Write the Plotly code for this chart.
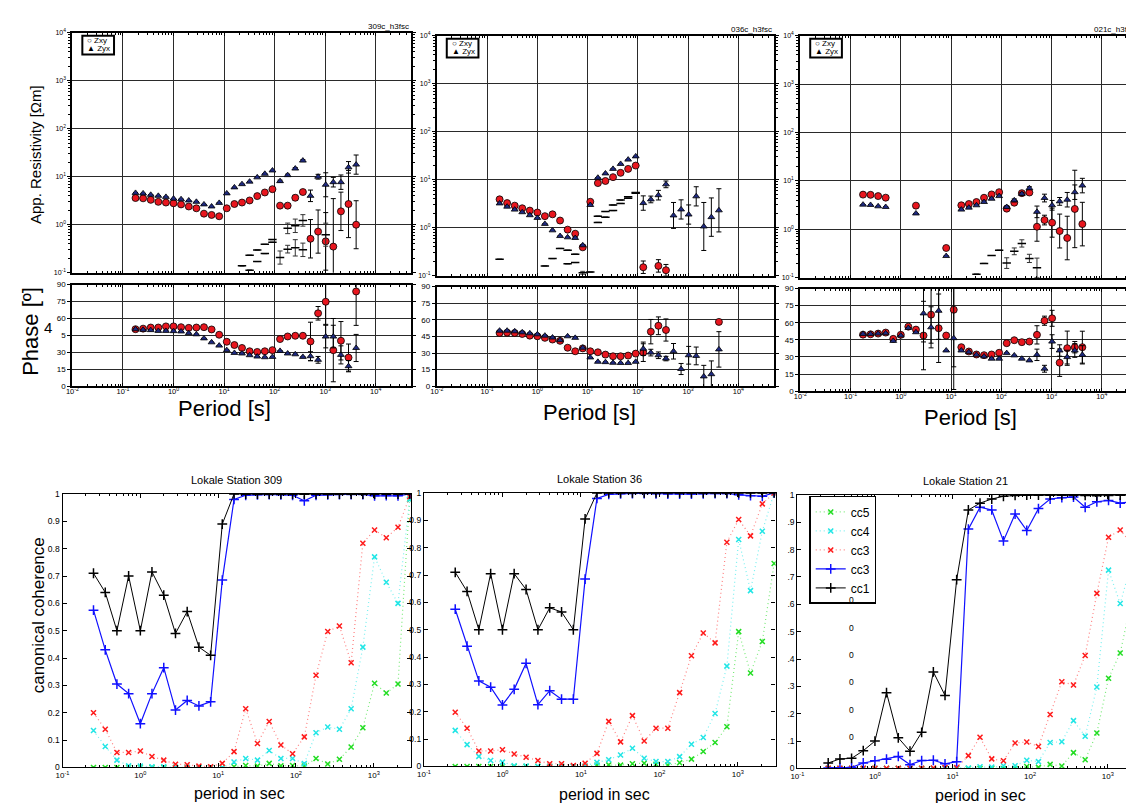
import plotly.graph_objects as go

W, H = 1134, 803
FONT = "Liberation Sans, Arial, Helvetica, sans-serif"


def fx(px):
    return px / W


def fy(py):
    return 1 - py / H


# ---------------- data ----------------
PERIODS_MT = [0.177, 0.25, 0.354, 0.5, 0.707, 1.0, 1.41, 2.0, 2.83, 4.0,
              5.66, 8.0, 11.3, 16.0, 22.6, 32.0, 45.3, 64.0, 90.5, 128,
              181, 256, 362, 512, 724, 1024, 1448, 2048, 2896, 4096]
PERIODS_CC = [0.25, 0.354, 0.5, 0.707, 1.0, 1.41, 2.0, 2.83, 4.0, 5.66,
              8.0, 11.3, 16.0, 22.6, 32.0, 45.3, 64.0, 90.5, 128, 181,
              256, 362, 512, 724, 1024, 1448, 2048, 2896]

N = None
# station 309
rho_xy_309 = [3.6, 3.55, 3.3, 3.0, 2.9, 2.8, 2.65, 2.4, 2.2, 1.7, 1.6, 1.5, 2.2, 2.7, 2.9, 3.2, 3.95, 4.7, 5.5, 2.5,
              2.5, 3.65, 4.8, 0.51, 0.72, 0.45, 0.35, 1.9, 2.7, 1.0]
rho_yx_309 = [4.6, 4.5, 4.2, 4.0, 3.8, 3.5, 3.4, 3.2, 3.0, 2.65, 2.4, 2.85, 4.5, 6.0, 7.0, 7.9, 9.7, 11.5, 13.5, 8.1,
              10.8, 14.8, 21.7, 4.0, 10, 6.8, 7.7, 7.7, 15.7, 17.9]
rho_xy_err_309 = [0] * 19 + [0.02, 0.02, 0.05, 0.04, 0.4, 0.45, 0.6, 1.0, 0.4, 0.7, 0.5]
rho_yx_err_309 = [0] * 19 + [0.02, 0.02, 0.02, 0.02, 0.12, 0.05, 0.25, 0.1, 0.15, 0.12, 0.2]
phi_xy_309 = [50.5, 51, 52, 52, 53, 53, 52.3, 51.7, 52, 52.3, 50.3, 45.6, 39.4, 36.5, 33.9, 31, 30.4, 31, 32, 41.8,
              44.1, 44.7, 44.7, 39.7, 64.6, 74.8, 32, 40.3, 25.4, 83.9]
phi_yx_309 = [50.5, 50, 49.7, 49, 49, 48.8, 48.5, 47, 46, 42.4, 38.9, 36, 32, 29.5, 29, 27.5, 26.3, 25.7, 26, 31.3,
              29, 28.3, 26, 26.6, 23.4, 44, 44, 27.8, 17.8, 33.9]
phi_xy_err_309 = [0] * 23 + [17, 6, 20, 28, 17, 12, 30]
phi_yx_err_309 = [0] * 23 + [4, 3, 10, 10, 8, 5, 12]
diag1_309 = [N] * 14 + [0.139, 0.231, 0.297, 0.39, 0.49, 0.207, 0.84, 0.95, 1.23, N, N, 0.62, N, N, N, N]
diag1_err_309 = [0] * 19 + [0.137, 0.11, 0.14, 0.12, 0, 0, 0.24, 0, 0, 0, 0]
diag2_309 = [N] * 15 + [0.113, 0.171, 0.25, 0.43, N, 0.31, 0.33, 0.30] + [N] * 7
diag2_err_309 = [0] * 20 + [0.08, 0.17, 0.14] + [0] * 7

# station 036
rho_xy_036 = [3.9, 3.26, 2.88, 2.54, 2.27, 2.07, 1.74, 1.9, 1.41, 0.91, 0.75, 0.39, 3.47, 8.5, 9.4, 11.3, 13.9, 16.8,
              19.7, 0.15, N, 0.16, 0.13, N, N, N, N, N, N, N]
rho_yx_036 = [3.2, 2.74, 2.38, 2.1, 1.82, 1.6, 1.2, 0.88, 0.67, 0.63, 0.61, 0.43, 2.97, 11, 13.5, 16.8, 21.3, 26.2,
              30.6, 3.26, 3.88, 4.76, 8.0, 1.8, 2.4, 1.88, 4.5, 1.06, 1.66, 2.3]
rho_xy_err_036 = [0] * 19 + [0.13, 0, 0.13, 0.12, 0, 0, 0, 0, 0, 0, 0]
rho_yx_err_036 = [0] * 19 + [0.15, 0.07, 0.1, 0.07, 0.27, 0.2, 0.2, 0.2, 0.5, 0.4, 0.45]
phi_xy_036 = [48.1, 48.4, 48.1, 47.2, 45.7, 45.1, 43.7, 42.2, 41, 34.8, 31.6, 34.2, 31.6, 30.7, 28.6, 27.1, 27.1, 27.7,
              29.5, 30.4, 49.3, 54.6, 50.8, N, N, N, N, N, N, 58.1]
phi_yx_036 = [50.2, 50.2, 49.6, 48.7, 47.8, 46.9, 45.7, 44, 41.6, 45.1, 43.7, 34.8, 26, 22.1, 21.8, 21.2, 21, 21, 22.1,
              33.9, 30.4, 28, 25, 31.6, 15.6, 28, 27.4, 8.9, 10.9, 33.3]
phi_xy_err_036 = [0] * 19 + [8, 11, 8, 10, 0, 0, 0, 0, 0, 0, 0]
phi_yx_err_036 = [0] * 19 + [6, 3, 3, 2, 7, 5, 8, 8, 10, 12, 16]
diag1_036 = [0.22, N, N, N, N, N, N, 0.227, 0.37, 0.34, 0.28, 0.115, 0.119, 1.74, 2.17, 2.97, 3.76, 4.4, 5.4] + [N] * 11
diag1_err_036 = [0] * 11 + [0.03] + [0] * 18
diag2_036 = [N] * 6 + [0.16, N, N, 0.177, 0.188, N, N, 1.29, 1.66, 2.27, 3.2, 4.1, 5.2] + [N] * 11
diag2_err_036 = [0] * 30

# station 021
rho_xy_021 = [5.2, 5.15, 4.85, 4.5, N, N, N, 3.08, N, N, N, 0.41, N, 3.13, 3.33, 3.66, 4.48, 5.25, 5.84, 2.67,
              3.54, 5.58, 5.75, 1.13, 1.55, 1.37, 0.92, 0.66, 2.63, 1.28]
rho_yx_021 = [3.23, 3.18, 2.98, 2.89, N, N, N, 2.12, N, N, N, 0.28, N, 2.55, 2.8, 3.13, 3.66, 4.27, 4.85, 2.89,
              3.96, 5.4, 7.06, 2.29, 4.42, 3.13, 3.77, 4.08, 5.84, 8.0]
rho_xy_err_021 = [0] * 23 + [0.3, 0.1, 0.3, 0.35, 0.45, 0.8, 0.45]
rho_yx_err_021 = [0] * 19 + [0.02, 0.03, 0.03, 0.03, 0.12, 0.08, 0.1, 0.08, 0.15, 0.15, 0.15]
phi_xy_021 = [49.6, 49.9, 50.5, 51.4, 45.9, 49.4, 56.6, 54, 48.8, 67.1, 55.2, 48.8, 71.4, 38.6, 34.8, 32.2, 31.6,
              32.2, 33.7, 42.1, 44.7, 43, 43.5, 49.4, 61.8, 63.9, 25, 37.7, 38.6, 38.6]
phi_yx_021 = [50.2, 50.2, 50.5, 50.8, 44.1, 48.8, 55.5, 51.7, 68.2, 56, 70.5, 35.7, 46.5, 35.7, 34.3, 31.9, 30.5,
              28.5, 28.5, 33.4, 31.4, 28.5, 27, 31.9, 19.7, 43.5, 35.7, 29.9, 35.7, 31.9]
phi_xy_err_021 = [0, 0, 0, 0, 0, 0, 0, 0, 30, 25, 30, 0, 50, 0, 0, 0, 0, 0, 0, 0, 0, 0, 0, 8, 4, 7, 12, 15, 5, 14]
phi_yx_err_021 = [0, 0, 0, 0, 0, 0, 0, 0, 25, 18, 25, 0, 45, 0, 0, 0, 0, 0, 0, 0, 0, 0, 0, 5, 3, 6, 5, 6, 6, 8]
diag1_021 = [N] * 15 + [0.118, 0.197, 0.287, 0.368, 0.2, 0.35, 0.51, 0.25, 0.16] + [N] * 6
diag1_err_021 = [0] * 19 + [0.11, 0.07, 0.075, 0.085, 0.2] + [0] * 6
diag2_021 = [N] * 30
diag2_err_021 = [0] * 30

# canonical coherences
cc1_309 = [0.71, 0.64, 0.50, 0.70, 0.50, 0.715, 0.63, 0.49, 0.57, 0.44, 0.41, 0.89, 1.0, 0.999, 0.999, 0.999,
           0.999, 0.999, 0.999, 0.999, 0.999, 0.999, 0.999, 0.999, 0.999, 0.999, 0.999, 1.0]
cc2_309 = [0.575, 0.43, 0.305, 0.27, 0.16, 0.27, 0.365, 0.21, 0.245, 0.225, 0.24, 0.685, 0.98, 0.995, 0.997, 0.998,
           0.997, 0.995, 0.975, 0.995, 0.997, 0.998, 0.998, 0.998, 0.993, 0.994, 0.993, 1.0]
cc3_309 = [0.2, 0.14, 0.055, 0.055, 0.06, 0.04, 0.027, 0.012, 0.01, 0.005, 0.003, 0.015, 0.058, 0.215, 0.088, 0.168,
           0.082, 0.05, 0.112, 0.337, 0.497, 0.517, 0.383, 0.82, 0.868, 0.84, 0.878, 0.99]
cc4_309 = [0.135, 0.077, 0.027, 0.006, 0.005, 0.003, 0.003, 0.001, 0.0, 0.0, 0.0, 0.0, 0.02, 0.033, 0.027, 0.062,
           0.033, 0.033, 0.014, 0.127, 0.148, 0.14, 0.215, 0.44, 0.77, 0.677, 0.6, 0.98]
cc5_309 = [0.0, 0.0, 0.0, 0.0, 0.0, 0.0, 0.0, 0.0, 0.0, 0.0, 0.0, 0.0, 0.003, 0.007, 0.005, 0.015, 0.006, 0.007,
           0.005, 0.033, 0.013, 0.03, 0.075, 0.145, 0.308, 0.272, 0.305, 0.98]

cc1_036 = [0.71, 0.64, 0.50, 0.705, 0.50, 0.705, 0.647, 0.50, 0.58, 0.565, 0.50, 0.905, 1.0, 1.0, 1.0, 1.0, 1.0,
           1.0, 1.0, 1.0, 1.0, 1.0, 1.0, 1.0, 1.0, 1.0, 1.0, 1.0]
cc2_036 = [0.575, 0.44, 0.313, 0.29, 0.225, 0.282, 0.377, 0.226, 0.277, 0.246, 0.246, 0.685, 0.98, 0.995, 0.997,
           0.998, 0.998, 0.997, 0.996, 0.996, 0.996, 0.997, 0.998, 0.998, 0.993, 0.99, 0.988, 1.0]
cc3_036 = [0.198, 0.14, 0.057, 0.057, 0.061, 0.046, 0.034, 0.022, 0.01, 0.01, 0.004, 0.012, 0.048, 0.165, 0.09,
           0.186, 0.093, 0.14, 0.14, 0.27, 0.405, 0.488, 0.452, 0.82, 0.903, 0.843, 0.96, 1.0]
cc4_036 = [0.132, 0.08, 0.037, 0.022, 0.016, 0.003, 0.002, 0.001, 0.0, 0.0, 0.0, 0.002, 0.015, 0.025, 0.042, 0.067,
           0.03, 0.018, 0.018, 0.036, 0.081, 0.106, 0.194, 0.367, 0.83, 0.643, 0.86, 1.0]
cc5_036 = [0.0, 0.0, 0.0, 0.0, 0.0, 0.0, 0.0, 0.0, 0.0, 0.0, 0.0, 0.0, 0.005, 0.006, 0.005, 0.01, 0.012, 0.008,
           0.005, 0.014, 0.027, 0.055, 0.088, 0.145, 0.493, 0.342, 0.457, 0.742]

cc1_021 = [0.02, 0.035, 0.037, 0.065, 0.1, 0.277, 0.112, 0.063, 0.132, 0.353, 0.267, 0.69, 0.945, 0.97, 0.985,
           0.995, 0.998, 0.999, 0.999, 0.999, 0.999, 0.999, 0.998, 0.997, 0.998, 0.999, 0.999, 0.999]
cc2_021 = [0.002, 0.003, 0.004, 0.02, 0.028, 0.034, 0.044, 0.014, 0.029, 0.03, 0.017, 0.025, 0.875, 0.955, 0.945,
           0.832, 0.93, 0.87, 0.95, 0.985, 0.99, 0.992, 0.955, 0.975, 0.98, 0.97, 0.975, 0.99]
cc3_021 = [0.001, 0.001, 0.001, 0.001, 0.001, 0.001, 0.001, 0.001, 0.001, 0.002, 0.003, 0.003, 0.047, 0.114, 0.035,
           0.028, 0.093, 0.097, 0.08, 0.197, 0.317, 0.305, 0.413, 0.64, 0.845, 0.872, 0.82, 0.95]
cc4_021 = [0.0, 0.0, 0.0, 0.0, 0.0, 0.0, 0.0, 0.0, 0.0, 0.0, 0.0, 0.0, 0.002, 0.006, 0.005, 0.01, 0.01, 0.03, 0.025,
           0.095, 0.098, 0.175, 0.118, 0.298, 0.725, 0.603, 0.755, 0.85]
cc5_021 = [0.0, 0.0, 0.0, 0.0, 0.0, 0.0, 0.0, 0.0, 0.0, 0.0, 0.0, 0.0, 0.0, 0.0, 0.0, 0.0, 0.0, 0.007, 0.004,
           0.015, 0.009, 0.058, 0.032, 0.13, 0.33, 0.422, 0.622, 0.8]

MT_NAMES = ["309c_h3fsc", "036c_h3fsc", "021c_h3fsc"]
CC_TITLES = ["Lokale Station 309", "Lokale Station 36", "Lokale Station 21"]
CC_NAMES = ["cc5", "cc4", "cc3", "cc3", "cc1"]

RES_TICKS = [0.1, 1, 10, 100, 1000, 10000]
RES_TICKTEXT = ["10<sup>-1</sup>", "10<sup>0</sup>", "10<sup>1</sup>", "10<sup>2</sup>", "10<sup>3</sup>",
                "10<sup>4</sup>"]
PER_TICKS = [0.01, 0.1, 1, 10, 100, 1000, 10000]
PER_TICKTEXT = ["10<sup>-2</sup>", "10<sup>-1</sup>", "10<sup>0</sup>", "10<sup>1</sup>", "10<sup>2</sup>",
                "10<sup>3</sup>", "10<sup>4</sup>"]
PHASE_TICKS = [0, 15, 30, 45, 60, 75, 90]
PHASE_TICKTEXT_A = ["0", "15", "30", "5", "60", "75", "90"]
PHASE_TICKTEXT = ["0", "15", "30", "45", "60", "75", "90"]
CC_XTICKS = [0.1, 1, 10, 100, 1000]
CC_XTICKTEXT = ["10<sup>-1</sup>", "10<sup>0</sup>", "10<sup>1</sup>", "10<sup>2</sup>", "10<sup>3</sup>"]
CC_YTICKS = [0, 0.1, 0.2, 0.3, 0.4, 0.5, 0.6, 0.7, 0.8, 0.9, 1]
CC_YTEXT = ["0", "0.1", "0.2", "0.3", "0.4", "0.5", "0.6", "0.7", "0.8", "0.9", "1"]
CC_YTEXT_C = ["0", ".1", ".2", ".3", ".4", ".5", ".6", ".7", ".8", ".9", "1"]

MT = [
    dict(rxy=rho_xy_309, ryx=rho_yx_309, rxy_e=rho_xy_err_309, ryx_e=rho_yx_err_309,
         pxy=phi_xy_309, pyx=phi_yx_309, pxy_e=phi_xy_err_309, pyx_e=phi_yx_err_309,
         d1=diag1_309, d1e=diag1_err_309, d2=diag2_309, d2e=diag2_err_309),
    dict(rxy=rho_xy_036, ryx=rho_yx_036, rxy_e=rho_xy_err_036, ryx_e=rho_yx_err_036,
         pxy=phi_xy_036, pyx=phi_yx_036, pxy_e=phi_xy_err_036, pyx_e=phi_yx_err_036,
         d1=diag1_036, d1e=diag1_err_036, d2=diag2_036, d2e=diag2_err_036),
    dict(rxy=rho_xy_021, ryx=rho_yx_021, rxy_e=rho_xy_err_021, ryx_e=rho_yx_err_021,
         pxy=phi_xy_021, pyx=phi_yx_021, pxy_e=phi_xy_err_021, pyx_e=phi_yx_err_021,
         d1=diag1_021, d1e=diag1_err_021, d2=diag2_021, d2e=diag2_err_021),
]
CC = [
    [cc5_309, cc4_309, cc3_309, cc2_309, cc1_309],
    [cc5_036, cc4_036, cc3_036, cc2_036, cc1_036],
    [cc5_021, cc4_021, cc3_021, cc2_021, cc1_021],
]

# ---------------- geometry (pixels) ----------------
MT_GEOM = [(58, 400, 20, 263, 275, 378), (426, 766, 23, 266, 277, 378), (793, 1133, 23, 268, 279, 383)]
CC_GEOM = [(48, 400, 487, 764, 3.48), (413, 768, 486, 763, 3.48), (790, 1134, 488, 765, 3.39)]

RED = "#e8161e"
NAVY = "#1f2a80"
CC_STYLE = [
    dict(color="#22dd22", lcolor="#7aea7a", dash="1px,3px", symbol="x-thin", size=5, width=1.2),
    dict(color="#22e6e6", lcolor="#7af0f0", dash="1px,3px", symbol="x-thin", size=5, width=1.2),
    dict(color="#ff1a1a", lcolor="#ff8080", dash="1px,3px", symbol="x-thin", size=5, width=1.2),
    dict(color="#1010ff", lcolor="#1010ff", dash="solid", symbol="cross-thin", size=7, width=1.2),
    dict(color="#000000", lcolor="#000000", dash="solid", symbol="cross-thin", size=7, width=1.0),
]


def log_err(vals, errs):
    plus, minus = [], []
    for v, e in zip(vals, errs):
        if v is None or not e:
            plus.append(None)
            minus.append(None)
        else:
            plus.append(v * (10 ** e - 1))
            minus.append(v * (1 - 10 ** (-e)))
    return plus, minus


def lin_err(errs):
    return [e if e else None for e in errs]


def ax_name(n):
    return "x" if n == 1 else f"x{n}"


def ay_name(n):
    return "y" if n == 1 else f"y{n}"


def lay_x(n):
    return "xaxis" if n == 1 else f"xaxis{n}"


def lay_y(n):
    return "yaxis" if n == 1 else f"yaxis{n}"


fig = go.Figure()
layout = dict(width=W, height=H, margin=dict(l=0, r=0, t=0, b=0), paper_bgcolor="white",
              plot_bgcolor="white", font=dict(family=FONT, color="black"), showlegend=True)
annotations = []
shapes = []

GRID = "#2a2a2a"
BORDER = dict(showline=True, linecolor="black", linewidth=2.2, mirror="allticks")

for i, st in enumerate(MT):
    x0, x1, ry0, ry1, py0, py1 = MT_GEOM[i]
    nr, npn = 2 * i + 1, 2 * i + 2
    # resistivity traces
    for key, ekey, sym, col, size in (("rxy", "rxy_e", "circle", RED, 7), ("ryx", "ryx_e", "triangle-up", NAVY, 6)):
        p, m = log_err(st[key], st[ekey])
        fig.add_trace(go.Scatter(
            x=PERIODS_MT, y=st[key], mode="markers", showlegend=False, xaxis=ax_name(nr), yaxis=ay_name(nr),
            marker=dict(symbol=sym, size=size, color=col, line=dict(color="black", width=0.8)),
            error_y=dict(type="data", symmetric=False, array=p, arrayminus=m, color="black", thickness=1,
                         width=2.5)))
    for key, ekey in (("d1", "d1e"), ("d2", "d2e")):
        if all(v is None for v in st[key]):
            continue
        p, m = log_err(st[key], st[ekey])
        fig.add_trace(go.Scatter(
            x=PERIODS_MT, y=st[key], mode="markers", showlegend=False, xaxis=ax_name(nr), yaxis=ay_name(nr),
            marker=dict(symbol="line-ew", size=6, color="black", line=dict(color="black", width=1.5)),
            error_y=dict(type="data", symmetric=False, array=p, arrayminus=m, color="#333333", thickness=1,
                         width=2.5)))
    # phase traces
    for key, ekey, sym, col, size in (("pxy", "pxy_e", "circle", RED, 7), ("pyx", "pyx_e", "triangle-up", NAVY, 6)):
        fig.add_trace(go.Scatter(
            x=PERIODS_MT, y=st[key], mode="markers", showlegend=False, xaxis=ax_name(npn), yaxis=ay_name(npn),
            marker=dict(symbol=sym, size=size, color=col, line=dict(color="black", width=0.8)),
            error_y=dict(type="data", array=lin_err(st[ekey]), color="black", thickness=1, width=2.5)))

    xcommon = dict(type="log", range=[-2, 4.7], tickmode="array", tickvals=PER_TICKS, showgrid=True,
                   gridcolor=GRID, gridwidth=1, ticks="inside", ticklen=3, tickcolor="black",
                   minor=dict(ticks="inside", ticklen=2, dtick="D1", showgrid=False, tickcolor="black"),
                   domain=[fx(x0), fx(x1)], **BORDER)
    layout[lay_x(nr)] = dict(xcommon, anchor=ay_name(nr), showticklabels=False)
    layout[lay_x(npn)] = dict(xcommon, anchor=ay_name(npn), ticktext=PER_TICKTEXT, tickfont=dict(size=7.5),
                              ticklabelstandoff=-3)
    layout[lay_y(nr)] = dict(type="log", range=[-1, 4], tickmode="array", tickvals=RES_TICKS, ticktext=RES_TICKTEXT,
                             tickfont=dict(size=7), showgrid=True, gridcolor=GRID, gridwidth=1, ticks="outside",
                             ticklen=3, tickcolor="black", anchor=ax_name(nr),
                             minor=dict(ticks="outside", ticklen=2, dtick="D1", showgrid=False, tickcolor="black"),
                             domain=[fy(ry1), fy(ry0)], **BORDER)
    layout[lay_y(npn)] = dict(range=[0, 90], tickmode="array", tickvals=PHASE_TICKS,
                              ticktext=PHASE_TICKTEXT_A if i == 0 else PHASE_TICKTEXT,
                              tickfont=dict(size=8), showgrid=True, gridcolor=GRID, gridwidth=1, ticks="outside",
                              ticklen=3, tickcolor="black", anchor=ax_name(npn),
                              domain=[fy(py1), fy(py0)], **BORDER)
    # station label
    annotations.append(dict(text=MT_NAMES[i], x=fx(x1), y=fy(ry0 - 6), xref="paper", yref="paper",
                            xanchor="right", yanchor="middle", showarrow=False, font=dict(size=8)))
    # small legend box
    bx0 = x0 + 10
    shapes.append(dict(type="rect", xref="paper", yref="paper", x0=fx(bx0), x1=fx(bx0 + 32),
                       y0=fy(ry0 + 3), y1=fy(ry0 + 22), line=dict(color="black", width=2), fillcolor="white"))
    annotations.append(dict(text="○ Zxy", x=fx(bx0 + 3), y=fy(ry0 + 8), xref="paper", yref="paper",
                            xanchor="left", yanchor="middle", showarrow=False, font=dict(size=8)))
    annotations.append(dict(text="▲ Zyx", x=fx(bx0 + 3), y=fy(ry0 + 16), xref="paper", yref="paper",
                            xanchor="left", yanchor="middle", showarrow=False, font=dict(size=8)))

for i, series in enumerate(CC):
    x0, x1, y0, y1, xr = CC_GEOM[i]
    n = 7 + i
    for k, vals in enumerate(series):
        s = CC_STYLE[k]
        fig.add_trace(go.Scatter(
            x=PERIODS_CC, y=vals, mode="lines+markers", name=CC_NAMES[k], showlegend=(i == 2),
            xaxis=ax_name(n), yaxis=ay_name(n),
            line=dict(color=s["lcolor"], dash=s["dash"], width=s["width"]),
            marker=dict(symbol=s["symbol"], size=s["size"], color=s["color"],
                        line=dict(color=s["color"], width=1.5))))
    layout[lay_x(n)] = dict(type="log", range=[-1, xr], tickmode="array", tickvals=CC_XTICKS,
                            ticktext=CC_XTICKTEXT, tickfont=dict(size=8), showgrid=False, ticks="inside",
                            ticklen=4, tickcolor="black", anchor=ay_name(n),
                            minor=dict(ticks="inside", ticklen=2, dtick="D1", tickcolor="black"),
                            domain=[fx(x0), fx(x1)], showline=True, linecolor="black", linewidth=1.3,
                            mirror="allticks")
    layout[lay_y(n)] = dict(range=[0, 1], tickmode="array", tickvals=CC_YTICKS,
                            ticktext=CC_YTEXT_C if i == 2 else CC_YTEXT, tickfont=dict(size=8.5),
                            showgrid=False, ticks="inside", ticklen=4, tickcolor="black", anchor=ax_name(n),
                            domain=[fy(y1), fy(y0)], showline=True, linecolor="black", linewidth=1.3,
                            mirror="allticks")
    annotations.append(dict(text=CC_TITLES[i], x=fx((x0 + x1) / 2 + (0 if i < 2 else -2)), y=fy(y0 - 14),
                            xref="paper", yref="paper", xanchor="center", yanchor="middle", showarrow=False,
                            font=dict(size=11)))

# axis titles
for txt, px, py, size, ang in [
    ("App. Resistivity [Ωm]", 20, 143, 15, -90),
    ("Phase [º]", 16, 322, 22, -90),
    ("canonical coherence", 24, 610, 17, -90),
]:
    annotations.append(dict(text=txt, x=fx(px), y=fy(py), xref="paper", yref="paper", textangle=ang,
                            xanchor="center", yanchor="middle", showarrow=False, font=dict(size=size)))
annotations.append(dict(text="4", x=fx(33), y=fy(318), xref="paper", yref="paper", showarrow=False,
                        xanchor="center", yanchor="middle", font=dict(size=15)))
for px, py in [(212, 400), (580, 405), (965, 410)]:
    annotations.append(dict(text="Period [s]", x=fx(px), y=fy(py), xref="paper", yref="paper", showarrow=False,
                            xanchor="center", yanchor="middle", font=dict(size=22)))
for px, py in [(227, 790), (595, 791), (975, 792)]:
    annotations.append(dict(text="period in sec", x=fx(px), y=fy(py), xref="paper", yref="paper",
                            showarrow=False, xanchor="center", yanchor="middle", font=dict(size=16)))
# stray zeros inside panel 3
for v in [0.615, 0.515, 0.415, 0.315, 0.215, 0.115]:
    annotations.append(dict(text="0", x=fx(845), y=fy(765 - v * 277), xref="paper", yref="paper",
                            showarrow=False, xanchor="center", yanchor="middle", font=dict(size=8.5)))

layout["annotations"] = annotations
layout["shapes"] = shapes
layout["legend"] = dict(x=fx(802), y=fy(489), xanchor="left", yanchor="top", bordercolor="black",
                        borderwidth=1.5, bgcolor="white", font=dict(size=12), tracegroupgap=0)
fig.update_layout(**layout)
fig.write_html("out.html")
